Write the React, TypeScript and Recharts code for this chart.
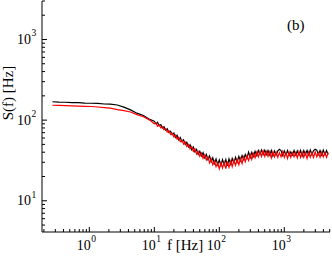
import { LineChart, Line, XAxis, YAxis } from "recharts";

const freqs = [
  0.27, 0.34, 0.43, 0.54, 0.68, 0.85, 1.07, 1.35, 1.7, 2.1, 2.7, 3.4, 4.3, 5.4, 6.8, 8.5,
  10, 10.6, 11.2, 11.9, 12.6, 13.3, 14.1, 15.0, 15.8, 16.8, 17.8, 18.8, 20.0, 21.1, 22.4, 23.7,
  25.1, 26.6, 28.2, 29.9, 31.6, 33.5, 35.5, 37.6, 39.8, 42.2, 44.7, 47.3, 50.1, 53.1, 56.2,
  59.6, 63.1, 66.8, 70.8, 75.0, 79.4, 84.1, 89.1, 94.4,
  100, 106, 112, 119, 126, 133, 141, 150, 158, 168, 178, 188, 200, 211, 224, 237, 251, 266,
  282, 299, 316, 335, 355, 376, 398, 422, 447, 473, 501, 531, 562, 596, 631, 668, 708, 750,
  794, 841, 891, 944,
  1000, 1059, 1122, 1189, 1259, 1334, 1413, 1496, 1585, 1679, 1778, 1884, 1995, 2113, 2239,
  2371, 2512, 2661, 2818, 2985, 3162, 3350, 3548, 3758, 3981, 4217, 4467, 4732,
];

const blackS = [
  169, 167, 166.5, 164.5, 164.5, 162.5, 162, 161, 158.5, 157.5, 154, 145, 134, 122, 114, 102,
  97, 90, 94, 85, 88, 80, 83, 75, 78, 70,
  73, 66, 69, 61, 65, 57, 61, 54, 57, 50,
  53, 46.5, 49.5, 43, 46.5, 40.5, 43.5, 37.5, 41, 36,
  39.5, 34, 37.5, 32.5, 36, 30.5, 34, 29, 33, 28,
  32, 27.5, 32.5, 28, 32.5, 27, 33, 28.5, 33.5, 29.5,
  34.5, 30, 35.5, 31.5, 36.5, 32.5, 37.5, 33.5, 40, 34.5,
  40, 35.5, 41, 36.5, 42, 37.5, 42.5, 37.5, 42.5, 37.5,
  42, 37, 42, 36, 41.5, 37, 41.5, 43.5, 42, 36.5,
  41.5, 37, 42, 36.5, 40.5, 37, 42, 37, 41.5, 37,
  42, 36, 42, 37.5, 42, 37, 42.5, 37.5, 42, 43.5,
  42.5, 37.5, 42, 37, 42.5, 37.5, 42, 37.5,
];

const redS = [
  153, 152, 151.5, 150.5, 149.5, 148.5, 147.5, 145.5, 143, 140.5, 135, 131, 126, 117, 110, 100,
  90, 92, 84, 87, 80, 83, 76, 78, 71, 74,
  66.5, 69, 62, 65, 58, 61, 54, 56.5, 50.5, 53.5,
  47, 50, 44, 47, 41, 44, 38, 41, 35.5, 39,
  33.5, 37, 32, 35, 29.5, 33, 28, 31, 26.5, 29.5,
  25, 29.5, 25.5, 30, 25, 30.5, 26, 31, 26.5, 32,
  27.5, 32.5, 28, 33.5, 29, 35, 30.5, 36, 31.5, 37.5,
  32.5, 38.5, 34, 40, 35, 41, 35.5, 41.5, 35.5, 41,
  35.5, 40.5, 34, 40.5, 35, 40, 34.5, 39.5, 35, 41,
  34.5, 39.5, 33.5, 40, 34.5, 39.5, 35, 39.5, 34, 40.5,
  34.5, 40, 34.5, 39.5, 33.5, 40, 34.5, 39.5, 34.5, 40.5,
  35, 39.5, 34.5, 40, 35, 39.5, 34.5, 39.5,
];

const xTicks = [
  0.2, 0.3, 0.4, 0.5, 0.6, 0.7, 0.8, 0.9, 1, 2, 3, 4, 5, 6, 7, 8, 9,
  10, 20, 30, 40, 50, 60, 70, 80, 90, 100, 200, 300, 400, 500, 600, 700, 800, 900,
  1000, 2000, 3000, 4000, 5000,
];
const yTicks = [
  5, 6, 7, 8, 9, 10, 20, 30, 40, 50, 60, 70, 80, 90,
  100, 200, 300, 400, 500, 600, 700, 800, 900, 1000, 2000, 3000,
];

const data = freqs.map((f, i) => ({ f, black: blackS[i], red: redS[i] }));

const font = "'Liberation Serif', 'Times New Roman', serif";

const isMajor = (v: number) => Math.abs(Math.log10(v) - Math.round(Math.log10(v))) < 1e-6;

const XTick = (props: any) => {
  const { x, y, payload, top } = props;
  const major = isMajor(payload.value);
  const len = major ? 5 : 3;
  const dir = top ? 1 : -1;
  const exp = Math.round(Math.log10(payload.value));
  return (
    <g>
      <line x1={x} x2={x} y1={y} y2={y + dir * len} stroke="#000" />
      {!top && major && (
        <text fontFamily={font} fill="#000">
          <tspan x={x + 1.5} y={250} fontSize={14} textAnchor="end">10</tspan>
          <tspan x={x + 2} y={242} fontSize={9.5}>{exp}</tspan>
        </text>
      )}
    </g>
  );
};

const YTick = (props: any) => {
  const { x, y, payload, right } = props;
  const major = isMajor(payload.value);
  const len = major ? 5 : 3;
  const dir = right ? -1 : 1;
  const exp = Math.round(Math.log10(payload.value));
  return (
    <g>
      <line x1={x} x2={x + dir * len} y1={y} y2={y} stroke="#000" />
      {!right && major && (
        <text fontFamily={font} fill="#000">
          <tspan x={x - 11} y={y + 4.5} fontSize={14} textAnchor="end">10</tspan>
          <tspan x={x - 10.5} y={y - 3} fontSize={9.5}>{exp}</tspan>
        </text>
      )}
    </g>
  );
};

const App = () => {
  return (
    <div style={{ position: "absolute", left: 0, top: 0, width: 332, height: 257, background: "#fff" }}>
      <LineChart width={332} height={257} data={data} margin={{ top: 1, right: 2, bottom: 0, left: 0 }}>
        <XAxis
          xAxisId="b"
          dataKey="f"
          type="number"
          scale="log"
          domain={[0.187, 5050]}
          allowDataOverflow
          ticks={xTicks}
          interval={0}
          height={25}
          tickSize={0}
          tickMargin={0}
          tickLine={false}
          axisLine={{ stroke: "#000" }}
          tick={(p: any) => <XTick {...p} top={false} />}
        />
        <XAxis
          xAxisId="t"
          orientation="top"
          dataKey="f"
          type="number"
          scale="log"
          domain={[0.187, 5050]}
          allowDataOverflow
          ticks={xTicks}
          interval={0}
          height={0}
          tickSize={0}
          tickMargin={0}
          tickLine={false}
          axisLine={{ stroke: "#000" }}
          tick={(p: any) => <XTick {...p} top={true} />}
        />
        <YAxis
          yAxisId="l"
          type="number"
          scale="log"
          domain={[4.1, 3000]}
          allowDataOverflow
          ticks={yTicks}
          interval={0}
          width={42}
          tickSize={0}
          tickMargin={0}
          tickLine={false}
          axisLine={{ stroke: "#000" }}
          tick={(p: any) => <YTick {...p} right={false} />}
        />
        <YAxis
          yAxisId="r"
          orientation="right"
          type="number"
          scale="log"
          domain={[4.1, 3000]}
          allowDataOverflow
          ticks={yTicks}
          interval={0}
          width={0}
          tickSize={0}
          tickMargin={0}
          tickLine={false}
          axisLine={{ stroke: "#000" }}
          tick={(p: any) => <YTick {...p} right={true} />}
        />
        <Line
          xAxisId="b"
          yAxisId="l"
          type="linear"
          dataKey="black"
          stroke="#000000"
          strokeWidth={1.2}
          dot={false}
          isAnimationActive={false}
        />
        <Line
          xAxisId="b"
          yAxisId="l"
          type="linear"
          dataKey="red"
          stroke="#ff0000"
          strokeWidth={1.2}
          dot={false}
          isAnimationActive={false}
        />
      </LineChart>
      <svg
        width={332}
        height={257}
        style={{ position: "absolute", left: 0, top: 0, pointerEvents: "none" }}
      >
        <text x={13} y={93} fontFamily={font} fontSize={15} textAnchor="middle" transform="rotate(-90 13 93)">
          S(f) [Hz]
        </text>
        <text x={167} y={250} fontFamily={font} fontSize={15}>
          f [Hz]
        </text>
        <text x={287} y={30} fontFamily={font} fontSize={15}>
          (b)
        </text>
      </svg>
    </div>
  );
};

export default App;
